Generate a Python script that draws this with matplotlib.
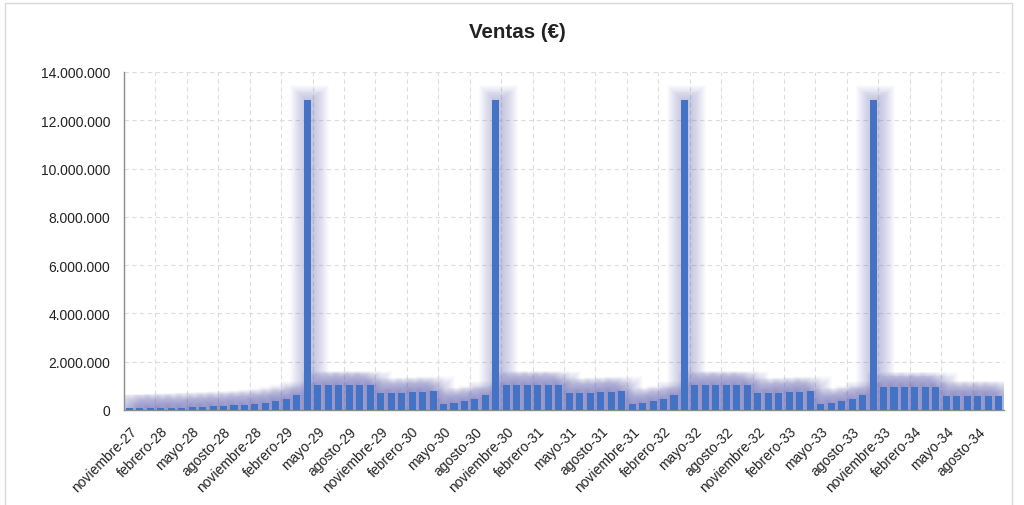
import numpy as np
import matplotlib
matplotlib.use('Agg')
import matplotlib.pyplot as plt
from matplotlib.patches import Rectangle
from matplotlib.ticker import FuncFormatter

plt.rcParams['font.family'] = ['Liberation Sans', 'DejaVu Sans']

# meses de noviembre-27 a octubre-34
meses_nombre = ['enero', 'febrero', 'marzo', 'abril', 'mayo', 'junio', 'julio',
                'agosto', 'septiembre', 'octubre', 'noviembre', 'diciembre']
meses = []
for y in range(27, 35):
    for m in range(12):
        if (y == 27 and m < 10) or (y == 34 and m > 9):
            continue
        meses.append('%s-%d' % (meses_nombre[m], y))

# ventas (euros)
arranque = [70000, 70000, 70000, 80000, 80000, 95000, 120000, 135000, 150000,
            175000, 190000, 220000, 260000, 300000, 370000, 455000, 610000]
pico = 12850000
alto = [1020000] * 6
medio = [700000, 700000, 720000, 740000, 760000, 790000]
rampa = [260000, 300000, 360000, 440000, 610000]
alto_final = [970000] * 6
bajo_final = [580000] * 6

ventas = (arranque + [pico]
          + alto + medio + rampa + [pico]
          + alto + medio + rampa + [pico]
          + alto + medio + rampa + [pico]
          + alto_final + bajo_final)
ventas = np.array(ventas, dtype=float)
x = np.arange(len(ventas))

fig = plt.figure(figsize=(10.24, 5.06), dpi=100)
fig.patches.append(Rectangle((5/1024, -0.01), 1007/1024, 1.0 - 4/506 + 0.01,
                             transform=fig.transFigure, fill=False,
                             edgecolor='#d9d9d9', linewidth=1.0))

ax = fig.add_axes([124/1024, 1 - 411/506, 880/1024, 338/506])

# glow / sombra difusa detras de las barras
for k in range(1, 17):
    ax.bar(x + 0.22, ventas + k * 38000, width=0.67 + k * 0.19,
           color='#7070bc', alpha=0.028, linewidth=0, zorder=2)

ax.bar(x, ventas, width=0.67, color='#4472c4', linewidth=0, zorder=3)

ax.set_xlim(-0.5, len(ventas) - 0.5)
ax.set_ylim(0, 14000000)
ax.set_yticks(np.arange(0, 14000001, 2000000))
ax.yaxis.set_major_formatter(FuncFormatter(lambda v, p: '{:,.0f}'.format(v).replace(',', '.')))

ax.set_xticks(x[::3])
ax.set_xticklabels(meses[::3], rotation=45, ha='right', va='top',
                   rotation_mode='anchor')
ax.set_xticks(np.arange(2.5, len(ventas), 3), minor=True)

ax.grid(axis='y', color='#dcdcdc', linestyle=(0, (4, 3)), linewidth=0.8, zorder=1)
ax.grid(axis='x', which='minor', color='#dcdcdc', linestyle=(0, (4, 3)),
        linewidth=0.8, zorder=1)
ax.set_axisbelow(True)

ax.tick_params(axis='both', which='both', length=0, labelsize=10, colors='#222222')
ax.tick_params(axis='y', pad=10)
ax.tick_params(axis='x', pad=10)

for s in ['top', 'right']:
    ax.spines[s].set_visible(False)
for s in ['left', 'bottom']:
    ax.spines[s].set_color('#8c8c8c')
    ax.spines[s].set_linewidth(1.0)

fig.text(517/1024, 1 - 32/506, 'Ventas (€)', ha='center', va='center',
         fontsize=14.8, fontweight='bold', color='#222222')

plt.savefig('out.png', dpi=100)
